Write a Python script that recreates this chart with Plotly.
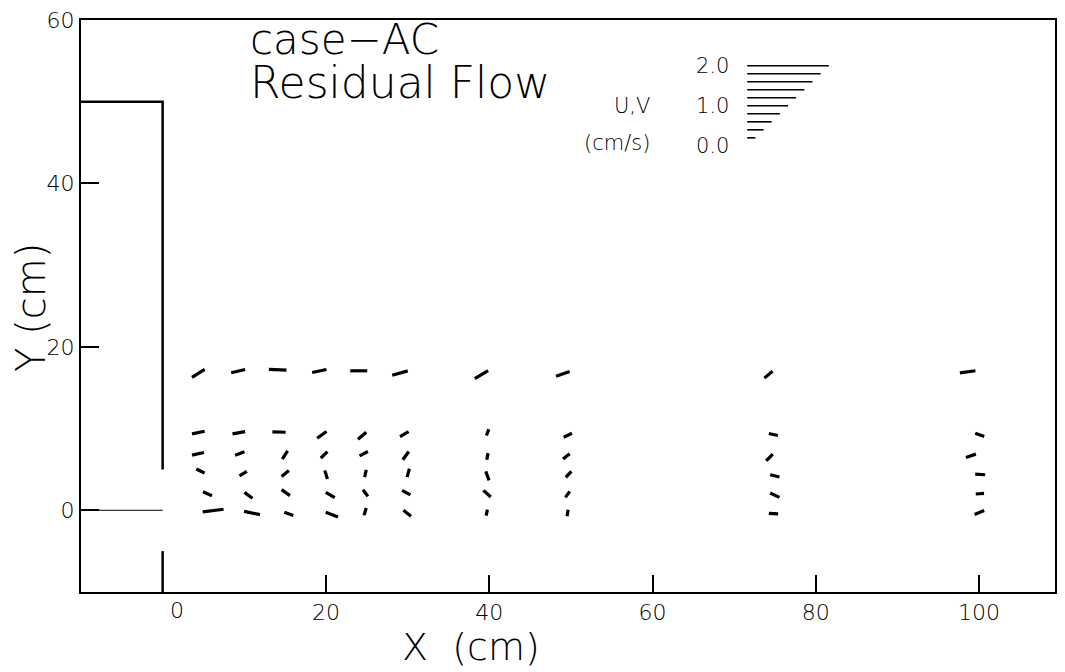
import plotly.graph_objects as go

# ---- residual-flow vectors: centre position (cm) and velocity (cm/s) ----
# rows from top (y ~ 17) down to the jet centreline (y ~ 0)
vec_x = [
    4.37, 9.25, 14.09, 19.19, 24.02, 29.07, 39.05, 49.02, 74.2, 98.6,
    4.37, 9.33, 14.25, 19.5, 24.43, 29.6, 39.8, 49.63, 74.8, 100.08,
    4.33, 9.45, 14.98, 19.78, 24.63, 29.78, 39.78, 49.45, 74.33, 99.0,
    4.63, 9.86, 15.02, 20.02, 24.84, 30.08, 39.78, 49.72, 74.98, 100.14,
    5.49, 10.51, 15.08, 20.53, 24.84, 29.84, 39.74, 49.6, 74.98, 100.1,
    6.18, 10.95, 15.45, 20.73, 24.8, 29.96, 39.7, 49.6, 74.82, 100.04,
]
vec_y = [
    16.75, 17.03, 17.2, 17.05, 17.07, 16.8, 16.59, 16.7, 16.6, 16.95,
    9.51, 9.49, 9.57, 9.23, 9.12, 9.33, 9.53, 9.18, 9.27, 9.23,
    6.91, 6.95, 6.77, 6.78, 6.93, 6.69, 6.59, 6.59, 6.46, 6.67,
    4.8, 4.49, 4.51, 4.35, 4.51, 4.57, 4.21, 4.39, 4.21, 4.39,
    2.03, 1.83, 2.16, 1.87, 2.11, 2.16, 2.03, 1.95, 1.85, 2.03,
    -0.04, -0.33, -0.45, -0.53, -0.16, -0.37, -0.28, -0.33, -0.41, -0.28,
]
vec_u = [
    0.31, 0.34, 0.43, 0.35, 0.415, 0.38, 0.325, 0.333, 0.2, 0.38,
    0.31, 0.31, 0.325, 0.228, 0.203, 0.211, 0.057, 0.203, 0.22, 0.22,
    0.293, 0.228, 0.13, 0.163, 0.203, 0.146, 0.03, 0.163, 0.163, 0.244,
    0.203, 0.179, 0.179, 0.065, 0.04, 0.057, 0.081, 0.138, 0.228, 0.244,
    0.22, 0.195, 0.203, 0.22, 0.122, 0.203, 0.179, 0.106, 0.228, 0.203,
    0.512, 0.39, 0.22, 0.3, 0.057, 0.187, 0.03, 0.024, 0.228, 0.236,
]
vec_v = [
    0.195, 0.081, -0.016, 0.073, 0.0, 0.106, 0.195, 0.114, 0.17, 0.05,
    0.065, 0.057, -0.008, 0.163, 0.171, 0.122, 0.154, 0.098, -0.049, -0.081,
    0.065, 0.081, 0.203, 0.163, 0.106, 0.203, 0.163, 0.13, 0.163, 0.081,
    -0.098, 0.106, 0.146, -0.211, 0.179, 0.203, -0.22, 0.146, -0.057, -0.016,
    -0.098, -0.146, -0.146, -0.13, -0.163, -0.114, -0.163, 0.146, -0.106, 0.016,
    0.065, -0.081, -0.081, -0.114, 0.179, -0.146, 0.146, 0.163, -0.016, 0.098,
]

# ---- reference speeds for the scale key (cm/s) ----
key_speeds = [0.2, 0.4, 0.6, 0.8, 1.0, 1.2, 1.4, 1.6, 1.8, 2.0]
key_labels = ["2.0", "1.0", "0.0"]
key_label_values = [2.0, 1.0, 0.0]

# ---- basin walls (cm): closed basin x<0 with an opening at |y|<5 ----
wall_x = [-10, 0, 0, None, 0, 0]
wall_y = [50, 50, 5, None, -5, -10]
centre_x = [-10, 0]
centre_y = [0, 0]

x_ticks = [20, 40, 60, 80, 100]
y_ticks = [0, 20, 40, 60]

ARROW_SCALE = 5.0        # cm of plot per 1 cm/s
KEY_X0 = 71.6            # left end of the scale-key bars
KEY_Y0, KEY_DY = 44.6, 4.9

FONT = "DejaVu Sans"
INK = "#000000"

# vector segments centred on their positions
seg_x, seg_y = [], []
for x, y, u, v in zip(vec_x, vec_y, vec_u, vec_v):
    dx, dy = 0.5 * ARROW_SCALE * u, 0.5 * ARROW_SCALE * v
    seg_x += [x - dx, x + dx, None]
    seg_y += [y - dy, y + dy, None]

key_x, key_y = [], []
for s in key_speeds:
    yy = KEY_Y0 + KEY_DY * s
    key_x += [KEY_X0, KEY_X0 + ARROW_SCALE * s, None]
    key_y += [yy, yy, None]

fig = go.Figure()
fig.add_trace(go.Scatter(x=wall_x, y=wall_y, mode="lines",
                         line=dict(color="black", width=2.5), hoverinfo="skip"))
fig.add_trace(go.Scatter(x=centre_x, y=centre_y, mode="lines",
                         line=dict(color="black", width=1), hoverinfo="skip"))
fig.add_trace(go.Scatter(x=seg_x, y=seg_y, mode="lines",
                         line=dict(color="black", width=3.2), hoverinfo="skip"))
fig.add_trace(go.Scatter(x=key_x, y=key_y, mode="lines",
                         line=dict(color="black", width=1.6), hoverinfo="skip"))

thin = dict(family=FONT, color=INK, weight=200)

annotations = [
    dict(x=10.5, y=57.6, text="case−AC", xanchor="left", yanchor="middle",
         font=dict(thin, size=42)),
    dict(x=10.5, y=52.3, text="Residual Flow", xanchor="left", yanchor="middle",
         font=dict(thin, size=44)),
    dict(x=59.9, y=49.5, text="U,V", xanchor="right", yanchor="middle",
         font=dict(thin, size=21)),
    dict(x=59.9, y=45.0, text="(cm/s)", xanchor="right", yanchor="middle",
         font=dict(thin, size=21)),
    dict(x=1.8, y=0, yref="paper", text="0", yanchor="top", yshift=-4,
         font=dict(thin, size=22)),
    dict(x=37.8, y=-0.097, yref="paper", text="X  (cm)", yanchor="middle",
         font=dict(thin, size=38)),
    dict(x=-0.052, xref="paper", y=24.8, text="Y (cm)", textangle=-90,
         xanchor="center", yanchor="middle", font=dict(thin, size=40)),
]
for lab, val in zip(key_labels, key_label_values):
    annotations.append(dict(x=69.6, y=KEY_Y0 + KEY_DY * val, text=lab,
                            xanchor="right", yanchor="middle",
                            font=dict(thin, size=21)))
for a in annotations:
    a.setdefault("xref", "x")
    a.setdefault("yref", "y")
    a["showarrow"] = False

axis_common = dict(showgrid=False, zeroline=False, showline=True,
                   linecolor="black", linewidth=2, mirror=True,
                   ticks="inside", tickcolor="black", tickwidth=1.5,
                   tickfont=dict(thin, size=22))

fig.update_layout(
    width=1065, height=672,
    margin=dict(l=81, r=8, t=18, b=80),
    paper_bgcolor="white", plot_bgcolor="white",
    showlegend=False,
    xaxis=dict(axis_common, range=[-10, 109.3], tickvals=x_ticks,
               ticktext=[str(t) for t in x_ticks], ticklen=17),
    yaxis=dict(axis_common, range=[-10, 60], tickvals=y_ticks,
               ticktext=[str(t) for t in y_ticks], ticklen=18),
    annotations=annotations,
)

fig.write_html("out.html")
